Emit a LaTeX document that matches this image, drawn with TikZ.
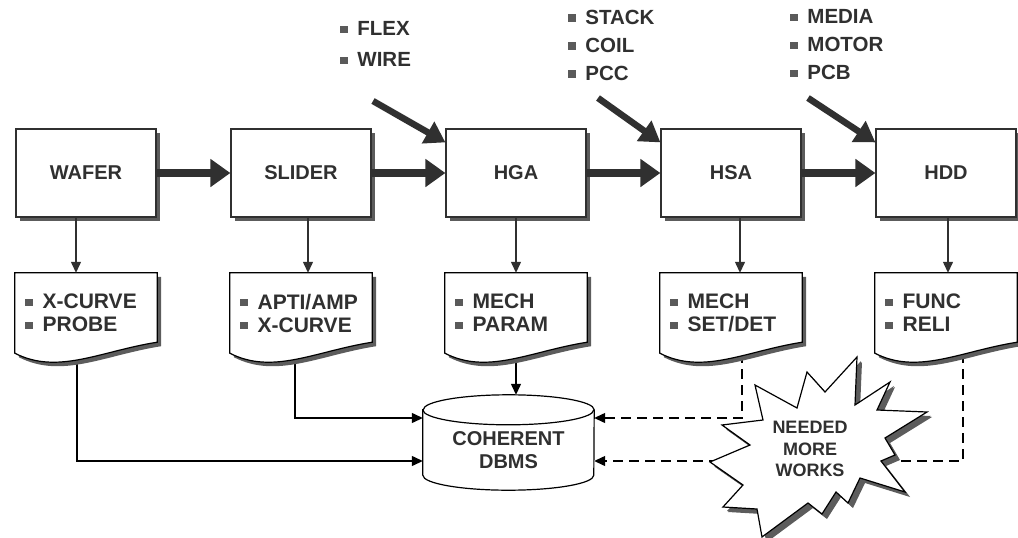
\documentclass[tikz,border=0pt]{standalone}
\usepackage{fontspec}
\setmainfont{Liberation Sans}
\usetikzlibrary{arrows.meta,shadows,backgrounds}

\definecolor{ink}{HTML}{303030}
\definecolor{shade}{HTML}{5C5C5C}

% square bullet in front of each list entry
\newcommand{\sqbul}{{\color{ink!80}\rule[0.12em]{0.36em}{0.36em}}\hspace{0.48em}}

\begin{document}
\begin{tikzpicture}[x=1pt, y=-1pt, node distance=215pt, color=ink, text=ink,
    font=\fontsize{20}{23}\selectfont\bfseries,
    stage/.style = {draw, line width=1.2pt, fill=white, minimum width=140pt, minimum height=88pt,
        drop shadow={shadow xshift=4pt, shadow yshift=-4pt, opacity=1, fill=shade}},
    doc/.style = {font=\fontsize{21}{23}\selectfont\bfseries, text width=122pt, inner xsep=10pt,
        minimum height=80pt, align=left},
    paper/.style = {draw, line width=1.2pt, fill=white,
        drop shadow={shadow xshift=4pt, shadow yshift=-4pt, opacity=1, fill=shade}},
    drum/.style = {draw, line width=1.2pt, fill=white},
    parts/.style = {font=\fontsize{20.5}{28}\selectfont\bfseries, align=left, anchor=west, inner sep=0pt},
    flow/.style = {line width=8pt, -{Triangle[length=20pt, width=27pt]}},
    feed/.style = {line width=6.5pt, -{Triangle[length=20pt, width=24pt]}},
    link/.style = {line width=1.3pt, -{Triangle[length=11pt, width=10pt]}},
    todo/.style = {link, dash pattern=on 10pt off 6pt}]
\useasboundingbox (0,0) rectangle (1018,538);

% process chain
\node[stage] (wafer) at (86,173) {WAFER};
\node[stage] (slider) [right of = wafer] {SLIDER};
\node[stage] (hga) [right of = slider] {HGA};
\node[stage] (hsa) [right of = hga] {HSA};
\node[stage] (hdd) [right of = hsa] {HDD};

% test reports under each stage
\node[doc] (wafdoc) [node distance=140pt, below of = wafer] {\sqbul X-CURVE\\\sqbul PROBE};
\node[doc] (slidoc) [node distance=140pt, below of = slider] {\sqbul APTI/AMP\\\sqbul X-CURVE};
\node[doc] (hgadoc) [node distance=140pt, below of = hga] {\sqbul MECH\\\sqbul PARAM};
\node[doc] (hsadoc) [node distance=140pt, below of = hsa] {\sqbul MECH\\\sqbul SET/DET};
\node[doc] (hdddoc) [node distance=140pt, below of = hdd] {\sqbul FUNC\\\sqbul RELI};

% incoming parts
\node[parts] (hgaparts) at (340,44) {\sqbul FLEX\\[3pt]\sqbul WIRE};
\node[parts] (hsaparts) at (568,45) {\sqbul STACK\\\sqbul COIL\\\sqbul PCC};
\node[parts] (hddparts) at (790,45) {\sqbul MEDIA\\\sqbul MOTOR\\\sqbul PCB};
\coordinate (hgafeed) at (373,101);
\coordinate (hsafeed) at (598,98);
\coordinate (hddfeed) at (808,98);

\node[minimum width=171pt, minimum height=80pt, align=center] (db) at (508.5,450) {COHERENT\\DBMS};
\node[align=center, font=\fontsize{18}{21.5}\selectfont\bfseries] (more) at (810,449) {NEEDED\\MORE\\WORKS};

\draw[flow] (wafer) -- (slider);
\draw[flow] (slider) -- (hga);
\draw[flow] (hga) -- (hsa);
\draw[flow] (hsa) -- (hdd);
\draw[feed] (hgafeed) -- ([yshift=-14pt]hga.north west);
\draw[feed] (hsafeed) -- ([yshift=-14pt]hsa.north west);
\draw[feed] (hddfeed) -- ([yshift=-14pt]hdd.north west);

\draw[link] ([xshift=-10pt]wafer.south) -- ([xshift=-10pt]wafdoc.north);
\draw[link] ([xshift=7pt]slider.south) -- ([xshift=7pt]slidoc.north);
\draw[link] (hga) -- (hgadoc);
\draw[link] ([xshift=9pt]hsa.south) -- ([xshift=9pt]hsadoc.north);
\draw[link] ([xshift=2pt]hdd.south) -- ([xshift=2pt]hdddoc.north);

\begin{scope}[on background layer]
  % results into the database
  \draw[link] ([xshift=-9pt]wafdoc.south) |- ([yshift=-11pt]db.west);
  \draw[link] ([xshift=-6pt]slidoc.south) |- ([yshift=32pt]db.west);
  \draw[link] (hgadoc.south) -- ([yshift=15pt]db.north -| hgadoc.south);
  \draw[todo] ([xshift=11pt]hsadoc.south) |- ([yshift=32pt]db.east);
  \draw[todo] ([xshift=17pt]hdddoc.south) |- ([yshift=-11pt]db.east);

  % report sheets with a wavy lower edge
  \foreach \d in {wafdoc, slidoc, hgadoc, hsadoc, hdddoc}
    \path[paper] (\d.south west) -- (\d.north west) -- (\d.north east) -- ([yshift=11pt]\d.south east)
      .. controls ([xshift=-57pt, yshift=2pt]\d.south east) and ([xshift=43pt, yshift=-22pt]\d.south west) .. (\d.south west) -- cycle;

  % database drum
  \path[drum] (db.north west) -- ([yshift=15pt]db.south west)
    arc[start angle=180, end angle=360, x radius=85.5pt, y radius=15pt]
    -- (db.north east) arc[start angle=0, end angle=180, x radius=85.5pt, y radius=15pt] -- cycle;
  \draw[line width=1.2pt] (db.north west) arc[start angle=180, end angle=360, x radius=85.5pt, y radius=15pt];

  % burst
  \path[paper, drop shadow={shadow xshift=5pt, shadow yshift=-5pt, opacity=1, fill=shade}]
    (857,357) -- (855,405) -- (890,382) -- (877,410) -- (927,412) -- (885,438) -- (895,455)
    -- (881,461) -- (905,492) -- (860,478) -- (848,503) -- (836,492) -- (822,514) -- (808,503)
    -- (762,537) -- (757,509) -- (723,507) -- (743,485) -- (710,462) -- (750,445) -- (722,425)
    -- (763,420) -- (755,385) -- (797,408) -- (807,372) -- (825,392) -- cycle;
\end{scope}
\end{tikzpicture}
\end{document}
